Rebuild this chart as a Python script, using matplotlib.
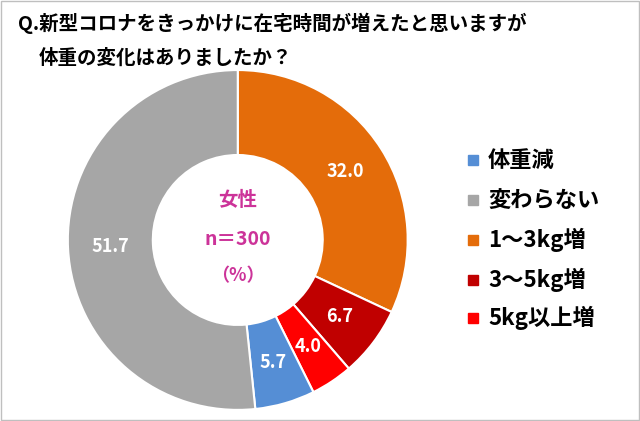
import matplotlib
matplotlib.use("Agg")
import matplotlib.pyplot as plt
from matplotlib.patches import Rectangle
import numpy as np

plt.rcParams["font.family"] = "Noto Sans CJK JP"

categories = ["1～3kg増", "3～5kg増", "5kg以上増", "体重減", "変わらない"]
values = [32.0, 6.7, 4.0, 5.7, 51.7]
colors = ["#E46C0A", "#C00000", "#FF0000", "#558ED5", "#A6A6A6"]
legend_order = ["体重減", "変わらない", "1～3kg増", "3～5kg増", "5kg以上増"]

fig = plt.figure(figsize=(6.4, 4.21), dpi=100)
fig.patches.append(Rectangle((0.002, 0.002), 0.996, 0.996, transform=fig.transFigure,
                             fill=False, edgecolor="#BFBFBF", linewidth=1))
ax = fig.add_axes([0.106, 0.026, 0.531, 0.808])
wedges, _ = ax.pie(values, colors=colors, startangle=90, counterclock=False,
                   wedgeprops=dict(width=0.5, edgecolor="white", linewidth=1.5))
for v, w in zip(values, wedges):
    mid = np.deg2rad((w.theta1 + w.theta2) / 2)
    r = 0.75
    ax.text(r * np.cos(mid), r * np.sin(mid), f"{v:.1f}", ha="center", va="center",
            color="white", fontsize=13, fontweight="bold")
ax.set_aspect("equal")
ax.set_xlim(-1, 1); ax.set_ylim(-1, 1)

mag = "#CC3399"
ax.text(0, 0.23, "女性", ha="center", va="center", color=mag, fontsize=14, fontweight="bold")
ax.text(0, 0.0, "n＝300", ha="center", va="center", color=mag, fontsize=14, fontweight="bold")
ax.text(0, -0.21, "（%）", ha="center", va="center", color=mag, fontsize=13, fontweight="bold")

fig.text(0.028, 0.945, "Q.新型コロナをきっかけに在宅時間が増えたと思いますが", fontsize=14,
         fontweight="bold", va="center")
fig.text(0.06, 0.862, "体重の変化はありましたか？", fontsize=14, fontweight="bold", va="center")

ys = [160, 200, 240, 280, 318]
for name, y in zip(legend_order, ys):
    c = colors[categories.index(name)]
    fy = 1 - y / 421
    fig.patches.append(Rectangle((468 / 640, fy - 5 / 421), 10 / 640, 10 / 421,
                                 transform=fig.transFigure, color=c))
    fig.text(488 / 640, fy, name, fontsize=16, fontweight="bold", va="center")

fig.savefig("out.png", dpi=100)
